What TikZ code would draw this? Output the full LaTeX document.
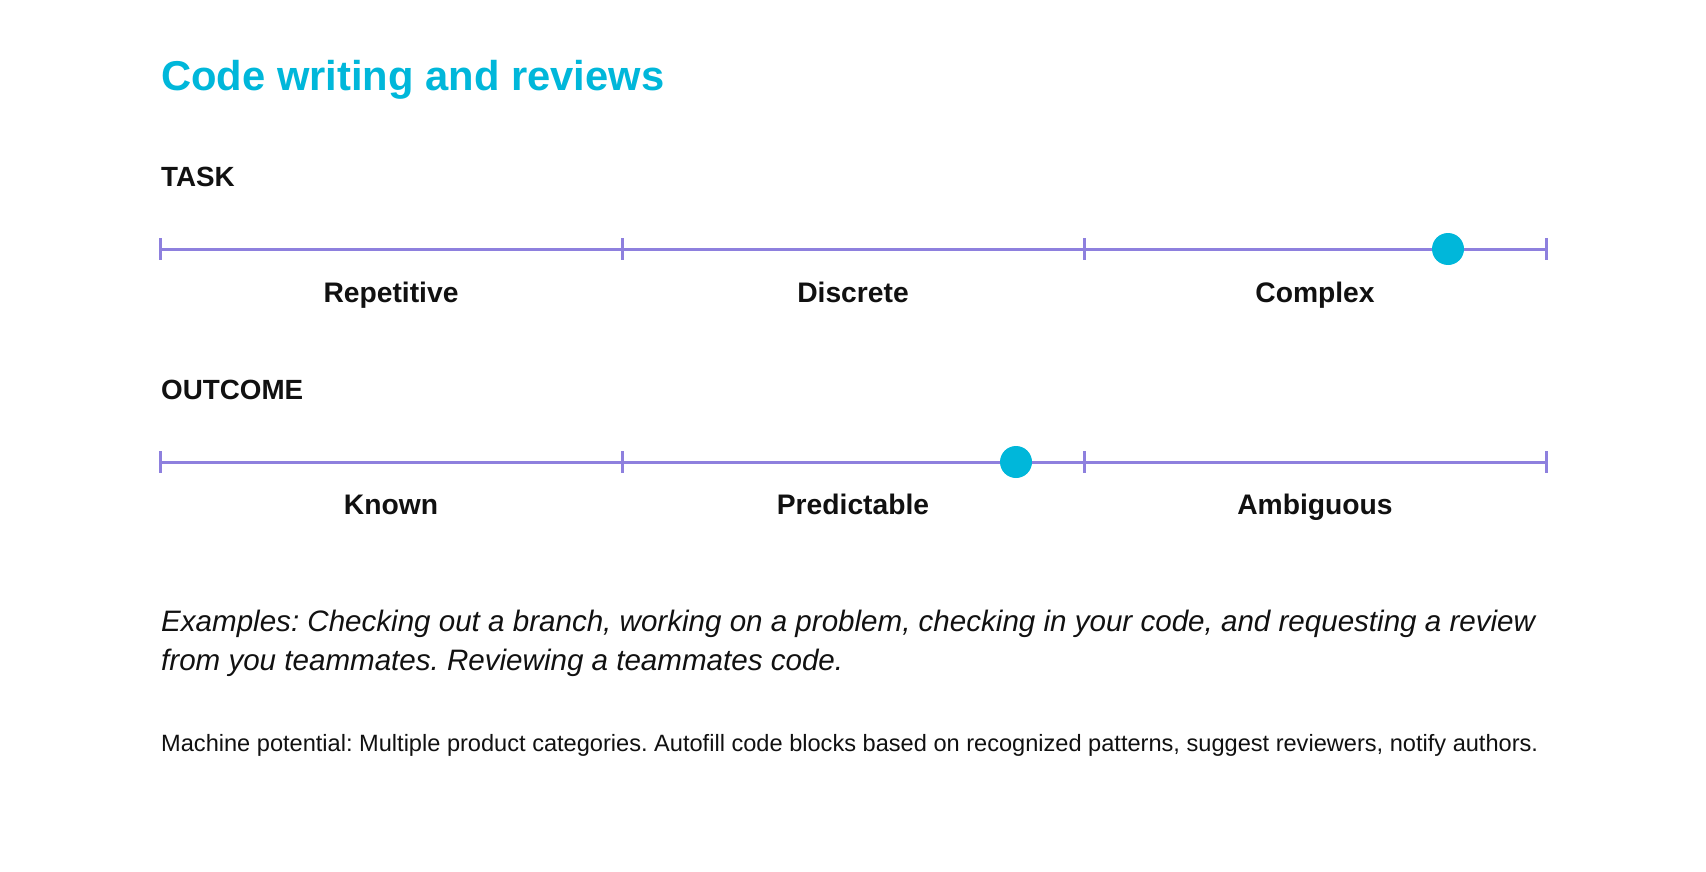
\documentclass[tikz,border=0pt]{standalone}
\usepackage{fontspec}
\setmainfont{Liberation Sans}
\definecolor{cyanT}{HTML}{00B7DA}
\definecolor{lav}{HTML}{8E80DE}
\definecolor{ink}{HTML}{111111}
\frenchspacing
\newlength\fitw
\newcommand\fitfont[4]{%
  \settowidth\fitw{\fontsize{10pt}{12pt}\selectfont#2#4}%
  \pgfmathsetmacro#1{10*#3/\fitw}}
\begin{document}
\frenchspacing
\fitfont{\titlesz}{\bfseries}{503}{Code writing and reviews}%
\fitfont{\headsz}{\bfseries}{142}{OUTCOME}%
\fitfont{\labsz}{\bfseries}{135}{Repetitive}%
\fitfont{\itsz}{\itshape}{1374}{Examples: Checking out a branch, working on a problem, checking in your code, and requesting a review}%
\fitfont{\machsz}{}{1377}{Machine potential: Multiple product categories. Autofill code blocks based on recognized patterns, suggest reviewers, notify authors.}%
\begin{tikzpicture}[x=1pt,y=-1pt,
  axisline/.style={draw=lav,line width=3pt},
  dot/.style={circle,fill=cyanT,minimum size=32pt,inner sep=0pt},
  txt/.style={inner sep=0pt,text=ink},
  titlestyle/.style={inner sep=0pt,anchor=base west,text=cyanT,font=\fontsize{\titlesz}{\titlesz}\selectfont\bfseries},
  headstyle/.style={txt,anchor=base west,font=\fontsize{\headsz}{\headsz}\selectfont\bfseries},
  labstyle/.style={txt,anchor=base,font=\fontsize{\labsz}{\labsz}\selectfont\bfseries},
  itstyle/.style={txt,anchor=base west,font=\fontsize{\itsz}{\itsz}\selectfont\itshape\frenchspacing},
  machstyle/.style={txt,anchor=base west,font=\fontsize{\machsz}{\machsz}\selectfont\frenchspacing}]
\fill[white] (0,0) rectangle (1706,872);
\useasboundingbox (0,0) rectangle (1706,872);

\node[titlestyle] (title) at (161,91) {Code writing and reviews};

% TASK row
\node[headstyle] (task) at (161,186) {TASK};
\foreach \i/\x in {0/160,1/622,2/1084,3/1546}{
  \coordinate (t\i) at (\x,249);
  \coordinate (o\i) at (\x,462);
}
\draw[axisline] (t0) -- (t3);
\foreach \i in {0,1,2,3}{
  \draw[axisline] ([yshift=11pt]t\i) -- ([yshift=-11pt]t\i);
}
\node[dot] (taskdot) at (1448,249) {};
\node[labstyle] (rep) at (391,302) {Repetitive};
\node[labstyle] (dis) at (853,302) {Discrete};
\node[labstyle] (com) at (1315,302) {Complex};

% OUTCOME row
\node[headstyle] (outcome) at (161,399) {OUTCOME};
\draw[axisline] (o0) -- (o3);
\foreach \i in {0,1,2,3}{
  \draw[axisline] ([yshift=11pt]o\i) -- ([yshift=-11pt]o\i);
}
\node[dot] (outdot) at (1016,462) {};
\node[labstyle] (kno) at (391,514) {Known};
\node[labstyle] (pre) at (853,514) {Predictable};
\node[labstyle] (amb) at (1315,514) {Ambiguous};

% texts
\node[itstyle] (ex1) at (161,631) {Examples: Checking out a branch, working on a problem, checking in your code, and requesting a review};
\node[itstyle] (ex2) at (161,670) {from you teammates. Reviewing a teammates code.};
\node[machstyle] (mach) at (161,751) {Machine potential: Multiple product categories. Autofill code blocks based on recognized patterns, suggest reviewers, notify authors.};
\end{tikzpicture}
\end{document}
